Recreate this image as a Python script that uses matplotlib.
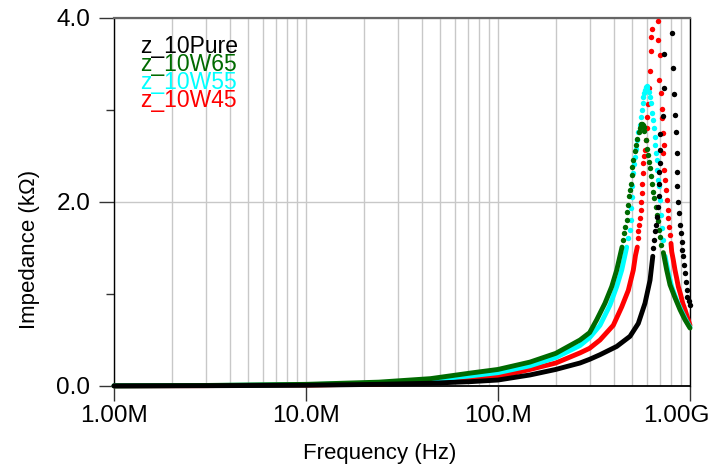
import numpy as np
import matplotlib
matplotlib.use("Agg")
import matplotlib.pyplot as plt
from matplotlib.ticker import FixedLocator, FixedFormatter, LogLocator, NullFormatter
from matplotlib.transforms import ScaledTranslation

plt.rcParams['font.family'] = ['Liberation Sans', 'DejaVu Sans']

# frequencies in MHz, impedance in kOhm
# "band" = low part where the points overlap into a thick trace,
# "dots" = resolved points around the resonance, "tail" = dense part above resonance

pure_band_f = [1, 3, 10, 24, 44.5, 71.5, 100, 146.8, 200, 267.4, 300, 339.8, 415.2, 487.0, 537.9, 583.0, 619.2, 640.0]
pure_band_z = [0.001, 0.003, 0.008, 0.018, 0.03, 0.047, 0.065, 0.12, 0.18, 0.25, 0.29, 0.34, 0.43, 0.54, 0.68, 0.90, 1.15, 1.41]
pure_dots_f = [645, 652, 658, 665.4, 671.1, 679.2, 686, 689, 692, 694, 697, 702, 722, 728, 735,
               808.8, 818.5, 828.4, 832, 842.4, 852.6, 856, 858.8, 862.9, 876.5, 887.1, 897.8, 905.5,
               908, 916.4, 930.8, 941.9, 949.9, 961.3, 968.3, 988.1, 1000]
pure_dots_z = [1.50, 1.59, 1.68, 1.75, 1.84, 1.95, 2.06, 2.20, 2.33, 2.42, 2.57, 2.74, 2.93, 3.24, 3.61,
               3.84, 3.46, 3.17, 2.95, 2.76, 2.53, 2.33, 2.17, 2.00, 1.88, 1.75, 1.66, 1.57,
               1.48, 1.41, 1.32, 1.23, 1.13, 1.04, 0.97, 0.92, 0.88]

w65_band_f = [1, 3, 10, 24, 44.5, 71.5, 100, 146.8, 200, 267.4, 300, 326.7, 360.8, 391.0, 415.2, 442.5]
w65_band_z = [0.002, 0.006, 0.018, 0.042, 0.08, 0.14, 0.18, 0.26, 0.355, 0.50, 0.58, 0.72, 0.90, 1.08, 1.26, 1.51]
w65_dots_f = [449.5, 454.9, 460.3, 468.1, 471.5, 477.2, 483.0, 487.0, 491.1, 497.0, 500.6, 506.7, 515.2,
              523.3, 531.5, 544.4, 548, 552.4, 557, 562.3, 567, 572.6, 579.4, 586.6, 595.1, 602.3,
              611.8, 619.2, 626.6, 636.4, 644.2, 652.0, 663.1, 671.1, 679.2, 689.8, 698.2, 706.6]
w65_dots_z = [1.59, 1.66, 1.73, 1.80, 1.89, 1.97, 2.06, 2.13, 2.20, 2.29, 2.38, 2.46, 2.55,
              2.62, 2.69, 2.76, 2.80, 2.83, 2.85, 2.85, 2.84, 2.82, 2.77, 2.67, 2.58, 2.51,
              2.44, 2.37, 2.28, 2.20, 2.11, 2.04, 1.95, 1.86, 1.79, 1.70, 1.62, 1.53]
w65_tail_f = [726.3, 756.2, 786.8, 835.4, 887.1, 941.9, 1000]
w65_tail_z = [1.45, 1.26, 1.10, 0.96, 0.83, 0.72, 0.63]

w55_band_f = [1, 3, 10, 24, 44.5, 71.5, 100, 146.8, 200, 267.4, 301.4, 339.8, 383.1, 415.2, 441.0, 468.1]
w55_band_z = [0.002, 0.005, 0.014, 0.033, 0.065, 0.11, 0.145, 0.22, 0.31, 0.44, 0.53, 0.66, 0.88, 1.08, 1.26, 1.51]
w55_dots_f = [478, 487.0, 490, 493, 497, 500.6, 506.7, 512, 517, 522, 527.7, 538, 549, 555.7, 560.3,
              567, 571.2, 577, 583, 588, 593.6, 600.6, 609.5, 619.2, 626.6, 636.4, 644.2, 652.0,
              657.5, 661, 665.4, 671.1, 675.9, 684.1, 689.8, 698.2, 706.6, 715.0, 721.1]
w55_dots_z = [1.61, 1.70, 1.80, 1.93, 2.05, 2.17, 2.32, 2.41, 2.49, 2.58, 2.67, 2.76, 2.84, 2.92, 3.00,
              3.08, 3.14, 3.18, 3.22, 3.25, 3.26, 3.24, 3.20, 3.14, 3.08, 2.97, 2.89, 2.80,
              2.71, 2.62, 2.53, 2.46, 2.35, 2.24, 2.17, 2.02, 1.86, 1.72, 1.59]
w55_tail_f = [741.3, 770.9, 803.0, 852.6, 905.5, 961.3, 1000]
w55_tail_z = [1.41, 1.23, 1.08, 0.93, 0.81, 0.70, 0.64]

w45_band_f = [1, 3, 10, 24, 44.5, 71.5, 100, 146.8, 200, 267.4, 300, 339.8, 398.6, 441.0, 477.2, 506.7, 520.1, 531.5]
w45_band_z = [0.001, 0.004, 0.01, 0.022, 0.045, 0.073, 0.10, 0.18, 0.25, 0.36, 0.41, 0.50, 0.66, 0.86, 1.04, 1.26, 1.42, 1.51]
w45_dots_f = [534.1, 537.9, 544.4, 549.0, 553.6, 558, 562.3, 564.4, 567.0, 572, 578, 583, 590, 595,
              599.4, 606.6, 615, 616, 624, 627, 636,
              684, 684.5, 698.2, 692.3, 706.6, 712.5, 713, 726.3, 728, 721.1, 732.5, 741.3, 749.9,
              756.2, 765.4, 770.9, 777.4, 786.8]
w45_dots_z = [1.61, 1.68, 1.75, 1.83, 1.91, 2.00, 2.10, 2.20, 2.32, 2.42, 2.50, 2.57, 2.67, 2.80,
              2.92, 3.07, 3.24, 3.42, 3.64, 3.79, 3.88,
              3.97, 3.76, 3.60, 3.33, 3.18, 3.01, 2.91, 2.75, 2.62, 2.53, 2.35, 2.24, 2.13,
              2.02, 1.91, 1.83, 1.73, 1.64]
w45_tail_f = [796.2, 803.0, 818.5, 835.4, 852.6, 869.2, 894.6, 916.4, 941.9, 968.3, 1000]
w45_tail_z = [1.55, 1.46, 1.37, 1.26, 1.17, 1.08, 0.99, 0.90, 0.83, 0.75, 0.66]

series = [
    ('z_10W45', '#ff0000', w45_band_f, w45_band_z, w45_dots_f, w45_dots_z, w45_tail_f, w45_tail_z),
    ('z_10W55', '#00ffff', w55_band_f, w55_band_z, w55_dots_f, w55_dots_z, w55_tail_f, w55_tail_z),
    ('z_10W65', '#006a00', w65_band_f, w65_band_z, w65_dots_f, w65_dots_z, w65_tail_f, w65_tail_z),
    ('z_10Pure', '#000000', pure_band_f, pure_band_z, pure_dots_f, pure_dots_z, [], []),
]
legend_order = ['z_10Pure', 'z_10W65', 'z_10W55', 'z_10W45']

x_ticks = [1e6, 1e7, 1e8, 1e9]
x_tick_labels = ['1.00M', '10.0M', '100.M', '1.00G']
y_ticks = [0, 2, 4]
y_tick_labels = ['0.0', '2.0', '4.0']

fig = plt.figure(figsize=(7.11, 4.74), dpi=100)
ax = fig.add_axes([114 / 711, 1 - 386 / 474, 576 / 711, 368 / 474])

line_kw = dict(lw=3.5, solid_capstyle='round', solid_joinstyle='round', clip_on=False, zorder=3)
colors = {}
for name, color, bf, bz, df, dz, tf, tz in series:
    colors[name] = color
    ax.plot(np.array(bf) * 1e6, bz, color=color, **line_kw)
    if tf:
        ax.plot(np.array(tf) * 1e6, tz, color=color, **line_kw)
    ax.plot(np.array(df) * 1e6, dz, ls='none', marker='o', ms=3.9, mew=0, color=color,
            clip_on=False, zorder=3)

ax.set_xscale('log')
ax.set_xlim(1e6, 1e9)
ax.set_ylim(0, 4)

ax.xaxis.set_major_locator(FixedLocator(x_ticks))
ax.xaxis.set_major_formatter(FixedFormatter(x_tick_labels))
ax.xaxis.set_minor_locator(LogLocator(base=10, subs=np.arange(2, 10)))
ax.xaxis.set_minor_formatter(NullFormatter())
ax.yaxis.set_major_locator(FixedLocator(y_ticks))
ax.yaxis.set_major_formatter(FixedFormatter(y_tick_labels))
ax.yaxis.set_minor_locator(FixedLocator([1, 3]))

ax.grid(True, which='major', axis='both', color='#c8c8c8', lw=1.0, zorder=0)
ax.grid(True, which='minor', axis='x', color='#c8c8c8', lw=1.0, zorder=0)
ax.set_axisbelow(True)

ax.tick_params(axis='both', which='major', direction='out', length=11, width=1.0,
               color='#333333', labelsize=17.5, pad=3)
ax.tick_params(axis='y', which='major', pad=6)
ax.tick_params(axis='x', which='minor', length=0)
ax.tick_params(axis='y', which='minor', direction='out', length=6, width=1.0, color='#333333')

# the last frequency label sits a little left of its tick, inside the figure
for lbl in ax.xaxis.get_majorticklabels():
    if lbl.get_text() == '1.00G':
        lbl.set_transform(lbl.get_transform() + ScaledTranslation(-0.14, 0, fig.dpi_scale_trans))

ax.spines['top'].set_color('#666666')
ax.spines['top'].set_linewidth(1.6)
ax.spines['right'].set_color('black')
ax.spines['right'].set_linewidth(1.0)
ax.spines['left'].set_linewidth(1.0)
ax.spines['bottom'].set_linewidth(1.3)

ax.set_xlabel('Frequency (Hz)', fontsize=16)
ax.xaxis.set_label_coords(0.462, -0.155)
ax.set_ylabel('Impedance (kΩ)', fontsize=16)
ax.yaxis.set_label_coords(-0.128, 0.372)

# stacked series names in the top-left corner
for i, name in enumerate(legend_order):
    ax.text(0.045, 0.906 - 0.0495 * i, name, transform=ax.transAxes, color=colors[name],
            fontsize=16.5, va='baseline', ha='left')

fig.savefig('out.png', dpi=100, facecolor='white')
